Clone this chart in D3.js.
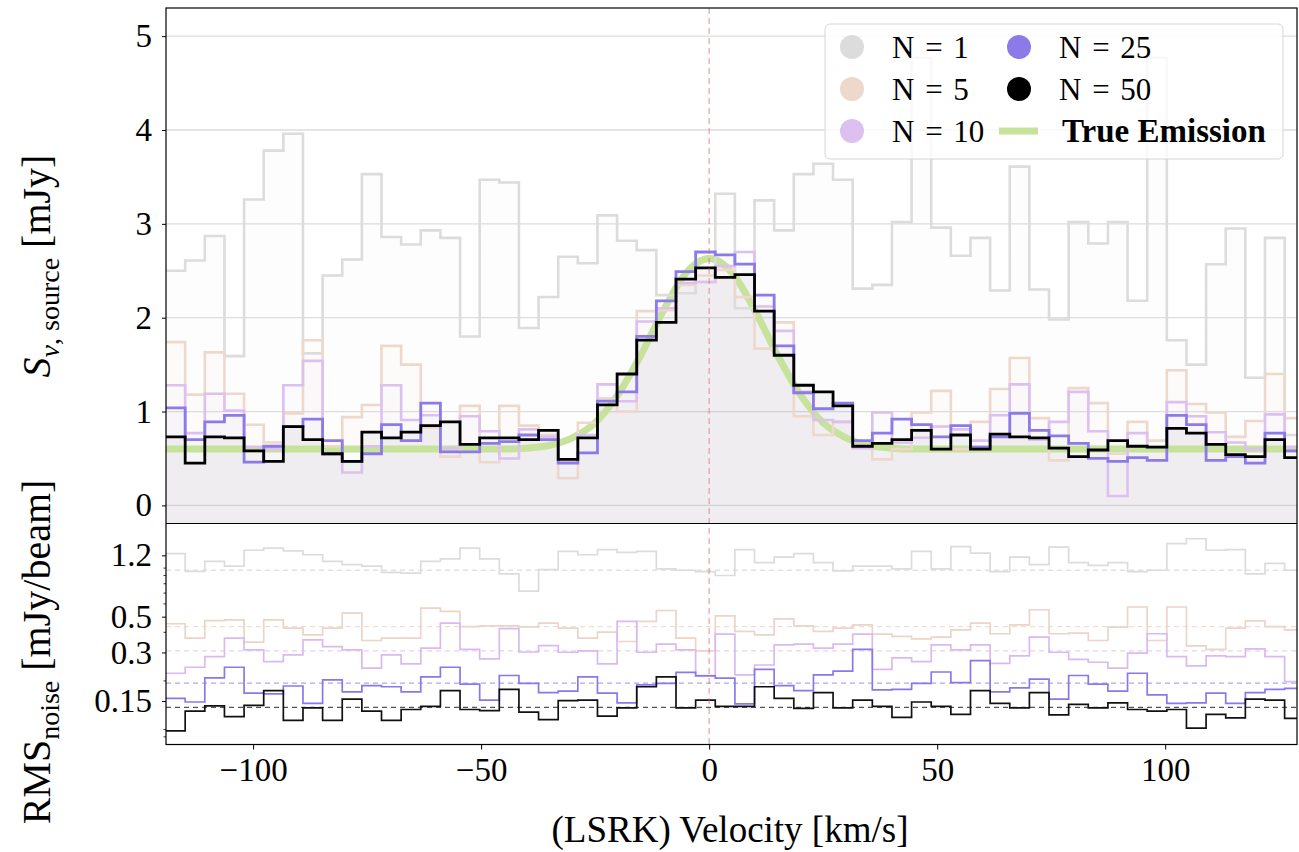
<!DOCTYPE html>
<html>
<head>
<meta charset="utf-8">
<script src="https://cdn.jsdelivr.net/npm/d3@7"></script>
<style>
  body { margin: 0; background: #fff; }
  text { font-family: "Liberation Serif", "DejaVu Serif", serif; fill: #000; }
</style>
</head>
<body>
<div id="chart"></div>
<script>
// stacked spectra (top) and per-channel noise (bottom) for N = 1 ... 50 averages

// velocity channels
var channelStart = -119.2;
var channelWidth = 4.305;
var channelCount = 58;

// top panel: source flux per channel [mJy]
var flux1 = [2.50, 2.61, 2.87, 1.59, 3.26, 3.78, 3.96, 1.62, 2.45, 2.62, 3.53, 2.86, 2.78, 2.93, 2.85, 1.80, 3.47, 3.44, 1.89, 2.22,
  2.65, 2.58, 3.09, 2.82, 2.72, 2.24, 2.26, 2.38, 3.32, 2.10, 3.25, 2.93, 3.53, 3.64, 3.47, 2.31, 2.35, 3.02, 4.77, 2.96,
  2.66, 2.85, 2.29, 3.61, 2.30, 1.98, 3.02, 2.79, 3.02, 2.18, 4.77, 1.76, 1.50, 2.57, 2.95, 1.36, 2.85, 0.75];
var flux5 = [1.74, 1.18, 1.63, 1.19, 0.86, 0.67, 0.98, 1.76, 0.63, 0.94, 1.07, 1.70, 1.50, 0.83, 0.52, 1.06, 0.46, 1.06, 0.85, 0.75,
  0.29, 0.88, 1.14, 1.00, 2.07, 2.08, 2.35, 2.45, 2.51, 2.22, 1.67, 1.95, 0.95, 0.75, 0.89, 0.64, 0.49, 0.60, 0.99, 1.22,
  0.60, 0.89, 1.24, 1.57, 0.93, 0.48, 1.25, 1.09, 0.55, 0.89, 0.69, 1.44, 1.08, 0.99, 0.73, 0.90, 1.40, 0.93];
var flux10 = [1.28, 0.77, 1.19, 1.01, 0.62, 0.60, 1.28, 1.54, 0.54, 0.35, 0.63, 1.28, 0.91, 0.96, 0.61, 0.95, 0.79, 0.50, 0.81, 0.73,
  0.46, 0.75, 1.29, 1.11, 1.96, 2.10, 2.37, 2.38, 2.55, 2.70, 2.12, 1.86, 1.21, 0.91, 0.89, 0.61, 0.99, 0.67, 0.72, 0.84,
  0.81, 0.69, 0.96, 1.29, 0.70, 0.89, 1.21, 0.79, 0.10, 0.77, 0.62, 1.10, 0.95, 0.78, 0.67, 0.60, 0.97, 0.62];
var flux25 = [1.04, 0.70, 0.89, 0.96, 0.46, 0.63, 0.84, 0.92, 0.69, 0.47, 0.55, 0.86, 0.69, 1.09, 0.57, 0.57, 0.66, 0.68, 0.75, 0.70,
  0.45, 0.56, 1.11, 1.21, 1.80, 2.18, 2.49, 2.70, 2.67, 2.57, 2.24, 1.70, 1.20, 1.03, 1.09, 0.69, 0.77, 0.92, 0.86, 0.73,
  0.85, 0.62, 0.73, 0.98, 0.80, 0.74, 0.66, 0.50, 0.47, 0.51, 0.48, 0.96, 0.86, 0.48, 0.52, 0.45, 0.77, 0.58];
var flux50 = [0.73, 0.45, 0.73, 0.72, 0.58, 0.47, 0.84, 0.70, 0.55, 0.47, 0.78, 0.72, 0.78, 0.85, 0.89, 0.65, 0.72, 0.72, 0.70, 0.80,
  0.49, 0.72, 1.07, 1.40, 1.76, 1.95, 2.41, 2.53, 2.43, 2.46, 2.07, 1.60, 1.28, 1.21, 1.06, 0.63, 0.66, 0.70, 0.80, 0.60,
  0.75, 0.60, 0.76, 0.73, 0.72, 0.61, 0.52, 0.59, 0.69, 0.63, 0.62, 0.82, 0.77, 0.65, 0.54, 0.52, 0.70, 0.51];

// true emission profile
var trueVel = [-119.1, -45, -40, -35, -30, -25, -20, -15, -10, -5, 0, 5, 10, 15, 20, 25, 30, 35, 40, 45, 128.9];
var trueFlux = [0.60, 0.60, 0.61, 0.64, 0.72, 0.88, 1.18, 1.60, 2.08, 2.48, 2.63, 2.48, 2.08, 1.60, 1.18, 0.88, 0.72, 0.64, 0.61, 0.60, 0.60];

// bottom panel: rms noise per channel [mJy/beam]
var rms1 = [1.23, 0.954, 1.10, 1.03, 1.29, 1.33, 1.28, 1.21, 1.10, 1.05, 1.03, 0.94, 0.93, 1.10, 1.14, 1.33, 1.14, 0.92, 0.72, 0.98,
  1.27, 1.21, 1.30, 1.25, 1.27, 0.99, 0.97, 0.95, 0.90, 1.30, 1.08, 1.17, 1.23, 1.08, 0.96, 1.03, 1.03, 0.99, 1.27, 0.99,
  1.36, 1.24, 0.95, 1.17, 1.05, 1.35, 1.08, 1.04, 1.08, 0.95, 0.97, 1.42, 1.52, 1.29, 1.30, 0.92, 1.07, 0.97];
var rms5 = [0.452, 0.368, 0.473, 0.478, 0.348, 0.478, 0.425, 0.386, 0.425, 0.526, 0.356, 0.368, 0.368, 0.565, 0.539, 0.434, 0.439, 0.439, 0.432, 0.456,
  0.425, 0.368, 0.401, 0.351, 0.467, 0.546, 0.368, 0.307, 0.506, 0.405, 0.386, 0.485, 0.439, 0.405, 0.425, 0.445, 0.390, 0.378, 0.364, 0.373,
  0.414, 0.456, 0.392, 0.445, 0.552, 0.392, 0.395, 0.356, 0.431, 0.574, 0.356, 0.574, 0.330, 0.314, 0.425, 0.471, 0.434, 0.414];
var rms10 = [0.223, 0.243, 0.283, 0.368, 0.311, 0.263, 0.290, 0.359, 0.326, 0.311, 0.240, 0.290, 0.255, 0.319, 0.456, 0.314, 0.274, 0.422, 0.302, 0.331,
  0.301, 0.307, 0.255, 0.467, 0.301, 0.338, 0.311, 0.216, 0.390, 0.218, 0.251, 0.334, 0.338, 0.319, 0.338, 0.390, 0.236, 0.278, 0.263, 0.334,
  0.311, 0.334, 0.257, 0.286, 0.373, 0.301, 0.272, 0.261, 0.240, 0.297, 0.392, 0.283, 0.248, 0.286, 0.283, 0.316, 0.283, 0.198];
var rms25 = [0.156, 0.148, 0.209, 0.243, 0.168, 0.166, 0.186, 0.145, 0.203, 0.171, 0.187, 0.184, 0.171, 0.212, 0.243, 0.191, 0.152, 0.216, 0.193, 0.169,
  0.173, 0.212, 0.168, 0.146, 0.189, 0.193, 0.226, 0.215, 0.208, 0.144, 0.236, 0.187, 0.174, 0.218, 0.230, 0.314, 0.176, 0.177, 0.193, 0.227,
  0.195, 0.267, 0.171, 0.181, 0.205, 0.154, 0.216, 0.191, 0.173, 0.223, 0.164, 0.145, 0.146, 0.168, 0.145, 0.169, 0.177, 0.180];
var rms50 = [0.098, 0.130, 0.140, 0.120, 0.141, 0.174, 0.114, 0.136, 0.114, 0.154, 0.130, 0.114, 0.133, 0.139, 0.174, 0.133, 0.131, 0.177, 0.128, 0.115,
  0.151, 0.152, 0.121, 0.136, 0.184, 0.212, 0.136, 0.152, 0.139, 0.139, 0.184, 0.156, 0.135, 0.169, 0.136, 0.152, 0.139, 0.119, 0.148, 0.139,
  0.124, 0.174, 0.145, 0.136, 0.169, 0.123, 0.143, 0.136, 0.146, 0.133, 0.130, 0.133, 0.102, 0.124, 0.118, 0.154, 0.152, 0.117];

// expected noise level for each N (dashed lines)
var noiseLevel = [0.97, 0.434, 0.307, 0.194, 0.137];

var seriesLabels = ["N = 1", "N = 5", "N = 10", "N = 25", "N = 50"];
var seriesColors = ["#dcdcdc", "#eed8cc", "#dcc0f0", "#8c7ae8", "#000000"];
var fluxSeries = [flux1, flux5, flux10, flux25, flux50];
var rmsSeries = [rms1, rms5, rms10, rms25, rms50];

var topTicks = [0, 1, 2, 3, 4, 5];
var rmsTicks = [0.15, 0.3, 0.5, 1.2];
var rmsMinorTicks = [0.09, 0.1, 0.2, 0.4, 0.6, 0.7, 0.8, 0.9, 1.0];
var velTicks = [-100, -50, 0, 50, 100];

// SVG area
var svgWidth = 1299;
var svgHeight = 852;

var plotLeft = 166;
var plotRight = 1297;
var topPanel = { top: 8, bottom: 523.5 };
var botPanel = { top: 523.5, bottom: 744.5 };

var svg = d3.select("#chart")
  .append("svg")
  .attr("width", svgWidth)
  .attr("height", svgHeight);

var edges = d3.range(channelCount + 1).map(i => channelStart + i * channelWidth);

// scales
var xscale = d3.scaleLinear()
  .domain([-119.1, 128.9])
  .range([plotLeft, plotRight]);

var ytop = d3.scaleLinear()
  .domain([-0.193, 5.30])
  .range([topPanel.bottom, topPanel.top]);

var ybot = d3.scaleLog()
  .domain([0.0807, 1.89])
  .range([botPanel.bottom, botPanel.top]);

// clip paths for each panel
var defs = svg.append("defs");
defs.append("clipPath").attr("id", "clipTop")
  .append("rect")
  .attr("x", plotLeft).attr("y", topPanel.top)
  .attr("width", plotRight - plotLeft).attr("height", topPanel.bottom - topPanel.top);
defs.append("clipPath").attr("id", "clipBot")
  .append("rect")
  .attr("x", plotLeft).attr("y", botPanel.top)
  .attr("width", plotRight - plotLeft).attr("height", botPanel.bottom - botPanel.top);

// step helpers: repeat last value so the final channel gets its full width
function stepData(vals) {
  return vals.concat([vals[vals.length - 1]]);
}

// ---------- top panel ----------
var topGroup = svg.append("g").attr("clip-path", "url(#clipTop)");

// horizontal gridlines
topGroup.selectAll(".hgrid")
  .data(topTicks)
  .enter()
  .append("line")
  .attr("x1", plotLeft).attr("x2", plotRight)
  .attr("y1", d => ytop(d)).attr("y2", d => ytop(d))
  .attr("stroke", "#dddddd")
  .attr("stroke-width", 1.3);

var fillOpacity = [0.06, 0.05, 0.045, 0.025, 0.03];

var stepArea = d3.area()
  .x((d, i) => xscale(edges[i]))
  .y0(topPanel.bottom)
  .y1(d => ytop(d))
  .curve(d3.curveStepAfter);

fluxSeries.forEach(function(vals, k) {
  topGroup.append("path")
    .datum(stepData(vals))
    .attr("d", stepArea)
    .attr("fill", seriesColors[k])
    .attr("fill-opacity", fillOpacity[k]);
});

// true emission
var trueLine = d3.line()
  .x((d, i) => xscale(trueVel[i]))
  .y(d => ytop(d))
  .curve(d3.curveMonotoneX);

topGroup.append("path")
  .datum(trueFlux)
  .attr("d", trueLine)
  .attr("fill", "none")
  .attr("stroke", "#c6e29b")
  .attr("stroke-width", 7);

var stepTop = d3.line()
  .x((d, i) => xscale(edges[i]))
  .y(d => ytop(d))
  .curve(d3.curveStepAfter);

var topWidths = [2.6, 2.6, 2.6, 2.8, 2.8];
fluxSeries.forEach(function(vals, k) {
  topGroup.append("path")
    .datum(stepData(vals))
    .attr("d", stepTop)
    .attr("fill", "none")
    .attr("stroke", seriesColors[k])
    .attr("stroke-width", topWidths[k]);
});

// ---------- bottom panel ----------
var botGroup = svg.append("g").attr("clip-path", "url(#clipBot)");

var dashColors = ["#e2e2e2", "#f0ddd3", "#e6d2f4", "#b2a6f2", "#555555"];
noiseLevel.forEach(function(lvl, k) {
  botGroup.append("line")
    .attr("x1", plotLeft).attr("x2", plotRight)
    .attr("y1", ybot(lvl)).attr("y2", ybot(lvl))
    .attr("stroke", dashColors[k])
    .attr("stroke-width", 1.3)
    .attr("stroke-dasharray", "5,4");
});

var stepBot = d3.line()
  .x((d, i) => xscale(edges[i]))
  .y(d => ybot(d))
  .curve(d3.curveStepAfter);

var botColors = ["#dcdcdc", "#ecd4c6", "#d9b9ef", "#8a78ea", "#111111"];
rmsSeries.forEach(function(vals, k) {
  botGroup.append("path")
    .datum(stepData(vals))
    .attr("d", stepBot)
    .attr("fill", "none")
    .attr("stroke", botColors[k])
    .attr("stroke-width", 1.7);
});

// zero velocity marker across both panels
svg.append("line")
  .attr("x1", xscale(0)).attr("x2", xscale(0))
  .attr("y1", topPanel.top).attr("y2", botPanel.bottom)
  .attr("stroke", "#d9646e")
  .attr("stroke-opacity", 0.6)
  .attr("stroke-width", 1.2)
  .attr("stroke-dasharray", "6,4");

// ---------- axes ----------
var leftTop = d3.axisLeft(ytop)
  .tickValues(topTicks)
  .tickSize(4)
  .tickPadding(10)
  .tickFormat(d3.format("d"));

var yAxisTop = svg.append("g")
  .attr("transform", `translate(${plotLeft}, 0)`)
  .call(leftTop);

var leftBot = d3.axisLeft(ybot)
  .tickValues(rmsTicks)
  .tickSize(4)
  .tickPadding(10)
  .tickFormat(d => d);

var yAxisBot = svg.append("g")
  .attr("transform", `translate(${plotLeft}, 0)`)
  .call(leftBot);

// minor log ticks
svg.append("g").selectAll("line")
  .data(rmsMinorTicks)
  .enter()
  .append("line")
  .attr("x1", plotLeft - 2.5).attr("x2", plotLeft)
  .attr("y1", d => ybot(d)).attr("y2", d => ybot(d))
  .attr("stroke", "#000")
  .attr("stroke-width", 0.8);

var bottomAxis = d3.axisBottom(xscale)
  .tickValues(velTicks)
  .tickSize(5)
  .tickPadding(8);

var xAxis = svg.append("g")
  .attr("transform", `translate(0, ${botPanel.bottom})`)
  .call(bottomAxis);

[yAxisTop, yAxisBot, xAxis].forEach(function(ax) {
  ax.select(".domain").remove();
  ax.selectAll(".tick line").attr("stroke", "#000").attr("stroke-width", 1);
  ax.selectAll(".tick text")
    .attr("font-size", "33px")
    .attr("font-family", "Liberation Serif")
    .attr("fill", "#000");
});

// frames
svg.append("rect")
  .attr("x", plotLeft).attr("y", topPanel.top)
  .attr("width", plotRight - plotLeft).attr("height", botPanel.bottom - topPanel.top)
  .attr("fill", "none").attr("stroke", "#000").attr("stroke-width", 1.2);
svg.append("line")
  .attr("x1", plotLeft).attr("x2", plotRight)
  .attr("y1", topPanel.bottom).attr("y2", topPanel.bottom)
  .attr("stroke", "#000").attr("stroke-width", 1.2);

// ---------- axis titles ----------
var topTitle = svg.append("text")
  .attr("transform", `translate(50, 266) rotate(-90)`)
  .attr("text-anchor", "middle")
  .attr("font-size", "40px");
topTitle.append("tspan").attr("font-style", "italic").text("S");
topTitle.append("tspan").attr("font-size", "28px").attr("dy", 9).attr("font-style", "italic").text("ν");
topTitle.append("tspan").attr("font-size", "28px").text(", source");
topTitle.append("tspan").attr("dy", -9).text(" [mJy]");

var botTitle = svg.append("text")
  .attr("transform", `translate(50, 652) rotate(-90)`)
  .attr("text-anchor", "middle")
  .attr("font-size", "40px");
botTitle.append("tspan").text("RMS");
botTitle.append("tspan").attr("font-size", "28px").attr("dy", 9).text("noise");
botTitle.append("tspan").attr("dy", -9).text(" [mJy/beam]");

svg.append("text")
  .attr("x", 730)
  .attr("y", 842)
  .attr("text-anchor", "middle")
  .attr("font-size", "37px")
  .text("(LSRK) Velocity [km/s]");

// ---------- legend ----------
var legend = svg.append("g");
legend.append("rect")
  .attr("x", 825).attr("y", 24)
  .attr("width", 458).attr("height", 135)
  .attr("rx", 5)
  .attr("fill", "#ffffff").attr("fill-opacity", 0.8)
  .attr("stroke", "#d6d6d6").attr("stroke-width", 1);

var legendCols = [852, 1019];
var legendRows = [47, 89, 131];
var legendItems = [0, 1, 2, 3, 4].map(k => ({
  label: seriesLabels[k],
  color: seriesColors[k],
  col: k < 3 ? 0 : 1,
  row: k < 3 ? k : k - 3
}));

legendItems.forEach(function(item) {
  var cx = legendCols[item.col];
  var cy = legendRows[item.row];
  legend.append("circle")
    .attr("cx", cx).attr("cy", cy).attr("r", 12)
    .attr("fill", item.color);
  legend.append("text")
    .attr("x", cx + 40).attr("y", cy + 11)
    .attr("font-size", "31px")
    .attr("word-spacing", "3px")
    .text(item.label);
});

legend.append("line")
  .attr("x1", 999).attr("x2", 1038)
  .attr("y1", legendRows[2]).attr("y2", legendRows[2])
  .attr("stroke", "#c6e29b").attr("stroke-width", 7);
legend.append("text")
  .attr("x", 1062).attr("y", legendRows[2] + 11)
  .attr("font-size", "33px")
  .attr("font-weight", "bold")
  .text("True Emission");
</script>
</body>
</html>
